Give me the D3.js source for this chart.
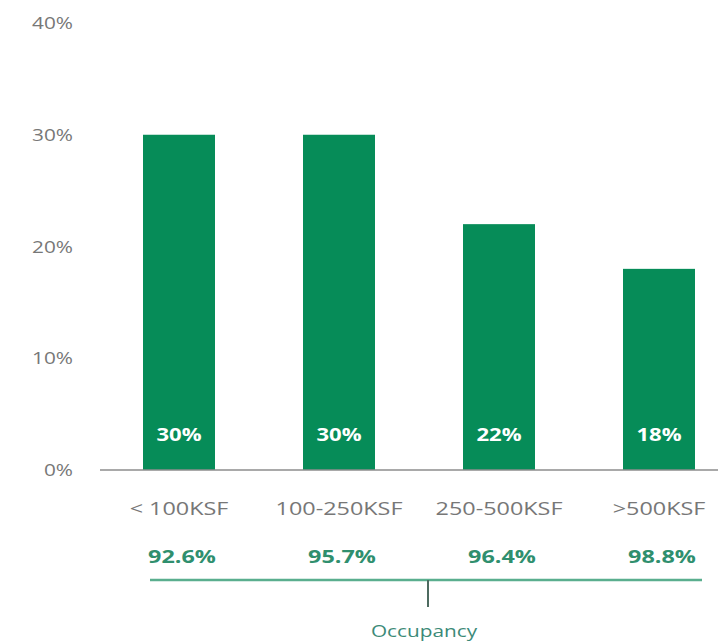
<!DOCTYPE html>
<html>
<head>
<meta charset="utf-8">
<script src="https://cdn.jsdelivr.net/npm/d3@7"></script>
<style>
  body { margin: 0; background: #fff; }
  text { font-family: "Open Sans", sans-serif; }
</style>
</head>
<body>
<div id="chart"></div>
<script>
const categories = ["< 100KSF", "100-250KSF", "250-500KSF", ">500KSF"];
const shares = [30, 30, 22, 18];
const occupancy = ["92.6%", "95.7%", "96.4%", "98.8%"];
const yTicks = [0, 10, 20, 30, 40];

const width = 718, height = 641;
const barColor = "#068c58";
const greyText = "#777777";
const greenText = "#2f8f6e";
// the source text is stretched sideways
const stretch = 1.3;

const svg = d3.select("#chart").append("svg")
  .attr("width", width)
  .attr("height", height);

const x = d3.scaleBand()
  .domain(categories)
  .range([99, 739])
  .paddingInner(0.55)
  .paddingOuter(0.275);

const y = d3.scaleLinear()
  .domain([0, 40])
  .range([470, 23]);

const mid = i => x(categories[i]) + x.bandwidth() / 2;

function place(sel, fx, fy) {
  return sel.attr("transform", (d, i) => `translate(${fx(d, i)},${fy(d, i)}) scale(${stretch},1)`);
}

// y tick labels
place(svg.selectAll(".ytick")
  .data(yTicks)
  .enter().append("text"), () => 73, d => y(d) + 6)
  .attr("text-anchor", "end")
  .attr("fill", greyText)
  .style("font-size", "16px")
  .text(d => d + "%");

// bars
svg.selectAll(".bar")
  .data(shares)
  .enter().append("rect")
  .attr("x", (d, i) => x(categories[i]))
  .attr("y", d => y(d))
  .attr("width", x.bandwidth())
  .attr("height", d => y(0) - y(d))
  .attr("fill", barColor);

// baseline
svg.append("line")
  .attr("x1", 100).attr("x2", width)
  .attr("y1", y(0)).attr("y2", y(0))
  .attr("stroke", "#8c8c8c")
  .attr("stroke-width", 1.5);

// value labels inside bars
place(svg.selectAll(".val")
  .data(shares)
  .enter().append("text"), (d, i) => mid(i), () => y(0) - 29)
  .attr("text-anchor", "middle")
  .attr("fill", "#fff")
  .style("font-size", "17px")
  .style("font-weight", "bold")
  .text(d => d + "%");

// category labels
place(svg.selectAll(".cat")
  .data(categories)
  .enter().append("text"), (d, i) => mid(i), () => 515)
  .attr("text-anchor", "middle")
  .attr("fill", greyText)
  .style("font-size", "18px")
  .text(d => d);

// occupancy values
place(svg.selectAll(".occ")
  .data(occupancy)
  .enter().append("text"), (d, i) => mid(i) + 3, () => 563)
  .attr("text-anchor", "middle")
  .attr("fill", greenText)
  .style("font-size", "18px")
  .style("font-weight", "bold")
  .text(d => d);

// bracket
svg.append("line")
  .attr("x1", 150).attr("x2", 702)
  .attr("y1", 580).attr("y2", 580)
  .attr("stroke", "#5aae8e")
  .attr("stroke-width", 2.5);

svg.append("line")
  .attr("x1", 428).attr("x2", 428)
  .attr("y1", 580).attr("y2", 607)
  .attr("stroke", "#4d6b60")
  .attr("stroke-width", 2);

svg.append("text")
  .attr("transform", `translate(424,637) scale(${stretch},1)`)
  .attr("text-anchor", "middle")
  .attr("fill", "#3c8a78")
  .style("font-size", "16px")
  .text("Occupancy");
</script>
</body>
</html>
